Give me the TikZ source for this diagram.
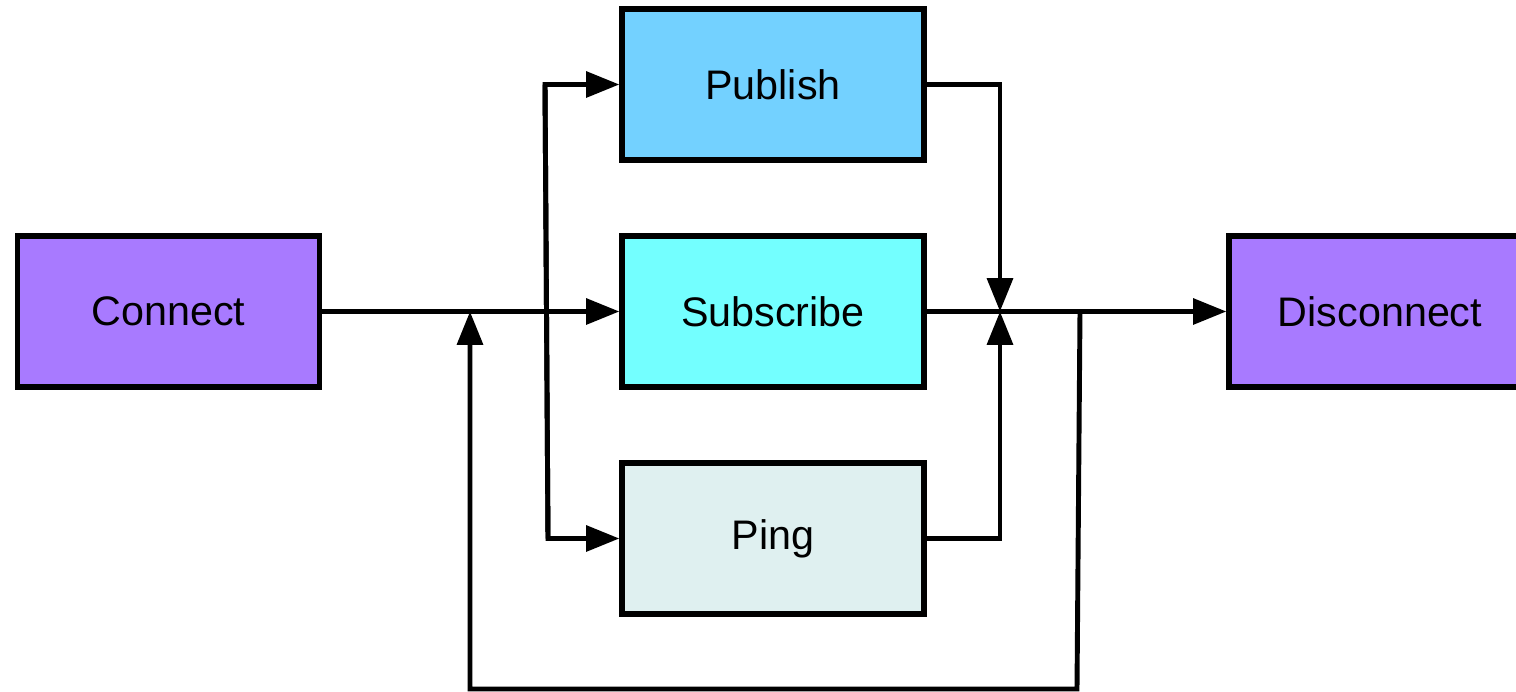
\documentclass[tikz,border=0pt]{standalone}
\usepackage{fontspec}
\setmainfont{Liberation Sans}
\usetikzlibrary{positioning,calc,arrows.meta}
\definecolor{sessioncol}{HTML}{A87AFF}
\definecolor{publishcol}{HTML}{73D1FF}
\definecolor{subscribecol}{HTML}{73FFFF}
\definecolor{pingcol}{HTML}{DFF0F0}

\begin{document}
\begin{tikzpicture}[x=0.02cm,y=-0.02cm,
  box/.style={draw,line width=3pt,minimum width=6.04cm,minimum height=3.02cm,
              font=\fontsize{23.5}{28}\selectfont},
  wire/.style={line width=2.8pt},
  flow/.style={wire,-{Triangle[length=19pt,width=14.5pt]}}]
\useasboundingbox (0,0) rectangle (1516,692);
% The boxes
\node[box,fill=sessioncol] (connect) at (168.5,311.5) {Connect};
\node[box,fill=publishcol] (publish) at (773,84.5) {Publish};
\node[box,fill=subscribecol] (subscribe) at (773,311.5) {Subscribe};
\node[box,fill=pingcol] (ping) at (773,538.5) {Ping};
\node[box,fill=sessioncol] (disconnect) at (1380,311.5) {Disconnect};
% Fork in front of the three actions
\coordinate (forktop) at (545,84.5);
\coordinate (forkbot) at (548,538.5);
\draw[flow] (connect) -- (subscribe);
\draw[flow] (forkbot) -- (forktop) -- (publish);
\draw[flow] (forktop) -- (forkbot) -- (ping);
% Merge behind them
\coordinate (merge) at (1000,311.5);
\draw[flow] (publish) -- (publish -| merge) -- (merge);
\draw[flow] (ping) -- (ping -| merge) -- (merge);
\draw[flow] (subscribe) -- (disconnect);
% Loop back to the start
\coordinate (loopout) at (1080,311.5);
\coordinate (loopin) at (470,311.5);
\draw[flow] (loopout) -- (1077,689) -- (470,689) -- (loopin);
\end{tikzpicture}
\end{document}
